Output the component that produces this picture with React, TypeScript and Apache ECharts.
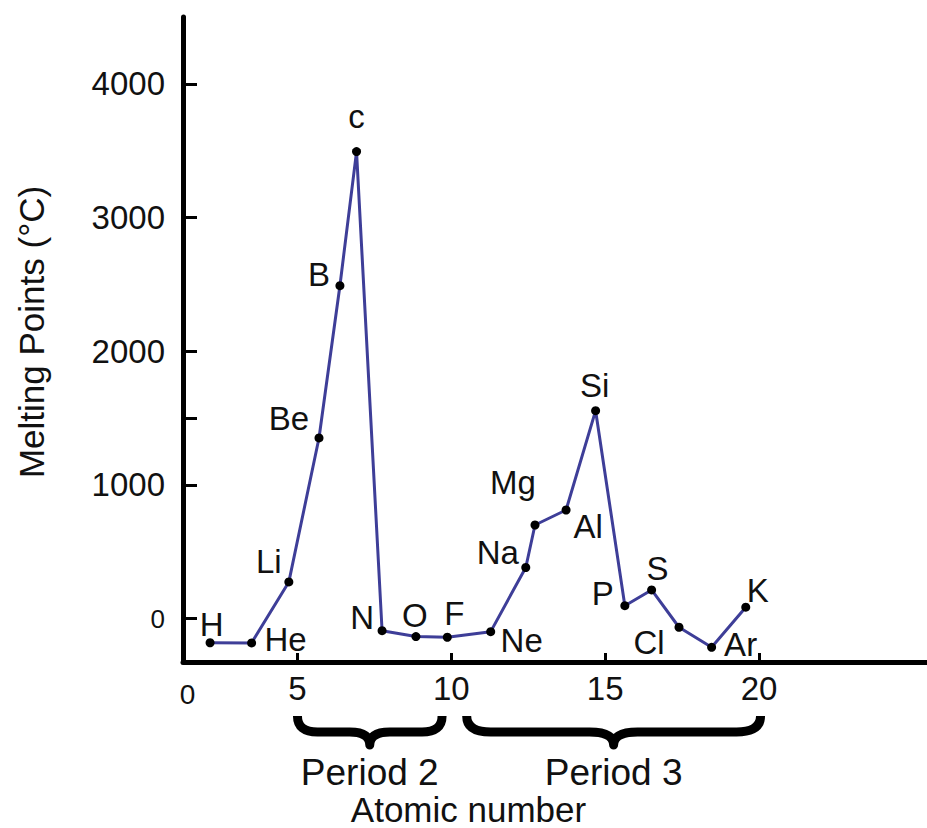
import React, { useEffect, useRef } from "react";
import * as echarts from "echarts";

// ---- data ----
const elements = ["H", "He", "Li", "Be", "B", "c", "N", "O", "F", "Ne", "Na", "Mg", "Al", "Si", "P", "S", "Cl", "Ar", "K"];
const atomicPos = [2.16, 3.51, 4.72, 5.7, 6.38, 6.92, 7.75, 8.85, 9.87, 11.28, 12.42, 12.72, 13.73, 14.69, 15.64, 16.51, 17.4, 18.46, 19.57];
const meltingPoints = [-181, -182, 274, 1351, 2490, 3493, -91, -135, -140, -98, 382, 700, 812, 1555, 96, 214, -65, -215, 85];

const xTickValues = [5, 10, 15, 20];
const xLabelValues = [1.43, 5, 10, 15, 20];
const yTickValues = [0, 1000, 1500, 2000, 3000, 4000];
const yLabelValues = [0, 1000, 2000, 3000, 4000];

const periods = ["Period 2", "Period 3"];
const periodStart = [5.0, 10.5];
const periodEnd = [9.7, 20.05];

// ---- styling ----
const labelOffsets: number[][] = [
  [1.5, -18.5], [34, -3], [-20, -20.5], [-30, -19], [-21, -11], [0, -35],
  [-20, -13.5], [-1, -21], [7, -24], [31, 9], [-28, -15], [-22, -42],
  [22, 16], [-1, -25], [-22, -12], [6, -21], [-30, 15], [29, -3], [12, -17],
];
const braceRadius = [20, 24];

const FONT = "'Liberation Sans', Arial, Helvetica, sans-serif";
const LINE = "#3e3e98";
const TXT = "#111";
const X_MIN = 1.28;
const X_MAX = 25.46;

function bracePath(w: number, r: number, armY: number, cuspY: number) {
  const m = w / 2;
  return `M0 0 Q0 ${armY} ${r} ${armY} L${m - r} ${armY} Q${m} ${armY} ${m} ${cuspY} Q${m} ${armY} ${m + r} ${armY} L${w - r} ${armY} Q${w} ${armY} ${w} 0`;
}

export default function App() {
  const ref = useRef<HTMLDivElement>(null);
  useEffect(() => {
    if (!ref.current) return;
    const chart = echarts.init(ref.current, null, { renderer: "svg" });
    const option: any = {
      animation: false,
      backgroundColor: "#ffffff",
      grid: { left: 183, right: 0, top: 17, bottom: 166, containLabel: false, outerBoundsMode: "none" },
      xAxis: {
        type: "value",
        min: X_MIN,
        max: X_MAX,
        splitLine: { show: false },
        axisLine: { show: true, onZero: false, lineStyle: { color: "#000", width: 5 } },
        axisTick: { show: true, inside: true, length: 9, lineStyle: { color: "#000", width: 3 }, customValues: xTickValues },
        axisLabel: {
          show: true,
          customValues: xLabelValues,
          formatter: (v: number) => (v < 2 ? "{z|0}" : String(v)),
          fontSize: 33,
          fontFamily: FONT,
          color: TXT,
          margin: 10,
          rich: { z: { fontSize: 28, fontFamily: FONT, color: TXT, padding: [8, 0, 0, 0] } },
        },
        name: "Atomic number",
        nameLocation: "middle",
        nameGap: 130,
        nameTextStyle: { fontSize: 35, fontFamily: FONT, color: TXT, padding: [0, 173, 0, 0] },
      },
      yAxis: {
        type: "value",
        min: -325,
        max: 4500,
        splitLine: { show: false },
        axisLine: { show: true, onZero: false, lineStyle: { color: "#000", width: 5 } },
        axisTick: { show: true, inside: true, length: 14, lineStyle: { color: "#000", width: 3 }, customValues: yTickValues },
        axisLabel: {
          show: true,
          customValues: yLabelValues,
          formatter: (v: number) => (v === 0 ? "{z|0}" : String(v)),
          fontSize: 33,
          fontFamily: FONT,
          color: TXT,
          margin: 18,
          rich: { z: { fontSize: 26, fontFamily: FONT, color: TXT } },
        },
        name: "Melting Points (°C)",
        nameLocation: "middle",
        nameGap: 134,
        nameRotate: 90,
        nameTextStyle: { fontSize: 35, fontFamily: FONT, color: TXT, padding: [0, 0, 0, 15] },
      },
      series: [
        {
          type: "line",
          data: atomicPos.map((x, i) => ({
            name: elements[i],
            value: [x, meltingPoints[i]],
            label: { offset: labelOffsets[i] },
          })),
          symbol: "circle",
          symbolSize: 9,
          itemStyle: { color: "#000" },
          lineStyle: { color: LINE, width: 3 },
          label: {
            show: true,
            position: "inside",
            formatter: "{b}",
            fontSize: 33,
            fontFamily: FONT,
            color: TXT,
          },
          emphasis: { disabled: true },
        },
      ],
    };
    chart.setOption(option);

    const graphics: any[] = [];
    periods.forEach((p, i) => {
      const x1 = chart.convertToPixel({ xAxisIndex: 0 }, periodStart[i]) as number;
      const x2 = chart.convertToPixel({ xAxisIndex: 0 }, periodEnd[i]) as number;
      const w = x2 - x1;
      const shapeName = "brace" + i;
      echarts.graphic.registerShape(shapeName, echarts.graphic.extendPath(bracePath(w, braceRadius[i], 16, 29), {}) as any);
      graphics.push({
        type: shapeName,
        x: x1,
        y: 716,
        style: { fill: "none", stroke: "#000", lineWidth: 9, lineJoin: "round", lineCap: "butt" },
      });
      graphics.push({
        type: "text",
        x: (x1 + x2) / 2,
        y: 772,
        style: { text: p, fontSize: 37, fontFamily: FONT, fill: TXT, align: "center", verticalAlign: "middle" },
      });
    });
    chart.setOption({ graphic: graphics });

    return () => chart.dispose();
  }, []);
  return <div ref={ref} style={{ position: "fixed", left: 0, top: 0, width: 927, height: 828 }} />;
}
